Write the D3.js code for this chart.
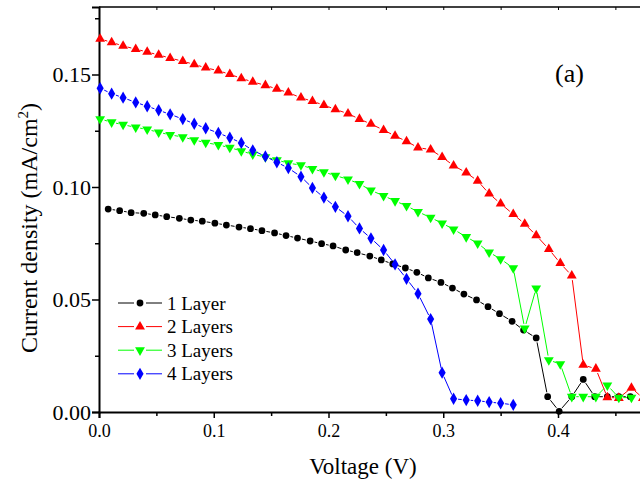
<!DOCTYPE html>
<html>
<head>
<meta charset="utf-8">
<script src="https://cdn.jsdelivr.net/npm/d3@7/dist/d3.min.js"></script>
<style>
  body { margin: 0; background: #fff; }
  svg { display: block; font-family: "Liberation Serif", "Times New Roman", serif; }
</style>
</head>
<body>
<svg id="chart" width="640" height="484"></svg>
<script>
// voltage grid shared by the 2, 3 and 4 layer curves
var voltage = [0.001, 0.011, 0.021, 0.032, 0.042, 0.052, 0.062, 0.073, 0.083, 0.093,
  0.104, 0.114, 0.124, 0.134, 0.145, 0.155, 0.165, 0.176, 0.186, 0.196,
  0.206, 0.217, 0.227, 0.237, 0.248, 0.258, 0.268, 0.278, 0.289, 0.299,
  0.309, 0.320, 0.330, 0.340, 0.350, 0.361, 0.371, 0.381, 0.392, 0.402,
  0.412, 0.422, 0.433, 0.443, 0.453, 0.464, 0.474];

// the 1 layer curve sits on a slightly shifted grid
var voltage1 = [0.008, 0.018, 0.028, 0.039, 0.049, 0.059, 0.070, 0.080, 0.090, 0.101,
  0.111, 0.122, 0.132, 0.142, 0.153, 0.163, 0.173, 0.184, 0.194, 0.204,
  0.215, 0.225, 0.236, 0.246, 0.256, 0.267, 0.277, 0.287, 0.298, 0.308,
  0.318, 0.329, 0.339, 0.349, 0.360, 0.370, 0.381, 0.391, 0.401, 0.412,
  0.422, 0.432, 0.443, 0.453, 0.463];

var layer1 = [0.0902, 0.0895, 0.0886, 0.0883, 0.0876, 0.0868, 0.0861, 0.0853, 0.0848, 0.0839,
  0.0831, 0.0822, 0.0815, 0.0806, 0.0796, 0.0784, 0.0773, 0.0760, 0.0748, 0.0738,
  0.0720, 0.0708, 0.0693, 0.0676, 0.0658, 0.0640, 0.0621, 0.0596, 0.0576, 0.0551,
  0.0524, 0.0498, 0.0468, 0.0437, 0.0403, 0.0364, 0.0329, 0.0068, 0.0003, 0.0068,
  0.0145, 0.0068, 0.0068, 0.0068, 0.0068];

var layer2 = [0.1658, 0.1643, 0.1627, 0.1613, 0.1600, 0.1587, 0.1573, 0.1559, 0.1545, 0.1530,
  0.1517, 0.1501, 0.1483, 0.1467, 0.1452, 0.1436, 0.1419, 0.1397, 0.1381, 0.1364,
  0.1345, 0.1326, 0.1302, 0.1280, 0.1253, 0.1227, 0.1203, 0.1175, 0.1166, 0.1133,
  0.1095, 0.1064, 0.1027, 0.0970, 0.0926, 0.0879, 0.0836, 0.0785, 0.0724, 0.0661,
  0.0606, 0.0209, 0.0192, 0.0065, 0.0062, 0.0107, 0.0062];

var layer3 = [0.1302, 0.1288, 0.1277, 0.1265, 0.1256, 0.1243, 0.1232, 0.1222, 0.1209, 0.1197,
  0.1187, 0.1175, 0.1160, 0.1145, 0.1133, 0.1120, 0.1106, 0.1097, 0.1081, 0.1066,
  0.1051, 0.1034, 0.1014, 0.0985, 0.0961, 0.0938, 0.0916, 0.0890, 0.0864, 0.0839,
  0.0812, 0.0778, 0.0750, 0.0710, 0.0680, 0.0640, 0.0372, 0.0550, 0.0231, 0.0213,
  0.0068, 0.0068, 0.0068, 0.0119, 0.0064, 0.0064];

var layer4 = [0.1439, 0.1415, 0.1397, 0.1376, 0.1359, 0.1341, 0.1323, 0.1302, 0.1281, 0.1261,
  0.1240, 0.1219, 0.1196, 0.1163, 0.1136, 0.1110, 0.1084, 0.1046, 0.0996, 0.0953,
  0.0912, 0.0870, 0.0816, 0.0772, 0.0720, 0.0656, 0.0592, 0.0526, 0.0413, 0.0175,
  0.0059, 0.0053, 0.0050, 0.0044, 0.0039, 0.0032];

var seriesNames = ["1 Layer", "2 Layers", "3 Layers", "4 Layers"];
var seriesColors = ["#000000", "#ff0000", "#00ff00", "#0000ff"];

var xMajor = [0, 0.1, 0.2, 0.3, 0.4];
var xMinor = [0.05, 0.15, 0.25, 0.35, 0.45];
var yMajor = [0, 0.05, 0.10, 0.15];
var yMinor = [0.025, 0.075, 0.125, 0.175];

var series = [
  {name: seriesNames[0], color: seriesColors[0], shape: "circle", xs: voltage1, ys: layer1},
  {name: seriesNames[1], color: seriesColors[1], shape: "up", xs: voltage, ys: layer2},
  {name: seriesNames[2], color: seriesColors[2], shape: "down", xs: voltage, ys: layer3},
  {name: seriesNames[3], color: seriesColors[3], shape: "diamond", xs: voltage, ys: layer4}
];
series.forEach(function (s) {
  s.points = s.ys.map(function (v, i) { return {x: s.xs[i], y: v}; });
});

var svg = d3.select("#chart");

var x = d3.scaleLinear().domain([0, 0.48]).range([99, 99 + 0.48 * 1147.5]);
var y = d3.scaleLinear().domain([0, 0.18]).range([412, 7]);

// frame
svg.append("line").attr("x1", x(0)).attr("x2", x(0.48)).attr("y1", y(0.18)).attr("y2", y(0.18))
  .attr("stroke", "#000").attr("stroke-width", 1.5);
svg.append("line").attr("x1", x(0.48)).attr("x2", x(0.48)).attr("y1", y(0.18)).attr("y2", y(0))
  .attr("stroke", "#000").attr("stroke-width", 1.5);

// top ticks pointing inward
svg.append("g")
  .attr("transform", "translate(0," + y(0.18) + ")")
  .call(d3.axisBottom(x).tickValues(xMajor.concat(xMinor)).tickSize(3).tickFormat(""))
  .call(function (g) { g.select(".domain").remove(); })
  .selectAll("line").attr("stroke-width", 1);

// bottom axis
var gx = svg.append("g")
  .attr("transform", "translate(0," + y(0) + ")")
  .call(d3.axisBottom(x).tickValues(xMajor).tickSize(6).tickPadding(6).tickFormat(d3.format(".1f")));
gx.append("g").call(d3.axisBottom(x).tickValues(xMinor).tickSize(4).tickFormat(""))
  .select(".domain").remove();
gx.select(".domain").attr("stroke-width", 2);
gx.selectAll("line").attr("stroke-width", 1.5);
gx.selectAll("text").attr("font-size", 18).attr("font-family", "Liberation Serif").attr("fill", "#000");

// left axis
var gy = svg.append("g")
  .attr("transform", "translate(" + x(0) + ",0)")
  .call(d3.axisLeft(y).tickValues(yMajor).tickSize(7).tickPadding(1).tickFormat(d3.format(".2f")));
gy.append("g").call(d3.axisLeft(y).tickValues(yMinor).tickSize(4).tickFormat(""))
  .select(".domain").remove();
gy.select(".domain").attr("stroke-width", 2);
gy.selectAll("line").attr("stroke-width", 1.5);
gy.selectAll("text").attr("font-size", 22).attr("font-family", "Liberation Serif").attr("fill", "#000");

// marker shapes
function markerPath(shape) {
  if (shape === "circle") return d3.symbol().type(d3.symbolCircle).size(36)();
  if (shape === "diamond") return d3.symbol().type(d3.symbolDiamond).size(44)();
  return d3.symbol().type(d3.symbolTriangle).size(42)();
}
function markerTransform(shape, px, py) {
  var t = "translate(" + px + "," + py + ")";
  if (shape === "down") t += " rotate(180)";
  return t;
}

// lines are broken around every marker
var gap = 4.5;
function gapSegments(pts) {
  var segs = [];
  for (var i = 0; i < pts.length - 1; i++) {
    var x0 = x(pts[i].x), y0 = y(pts[i].y), x1 = x(pts[i + 1].x), y1 = y(pts[i + 1].y);
    var dx = x1 - x0, dy = y1 - y0, len = Math.sqrt(dx * dx + dy * dy);
    if (len <= 2 * gap) continue;
    var ux = dx / len, uy = dy / len;
    segs.push([x0 + ux * gap, y0 + uy * gap, x1 - ux * gap, y1 - uy * gap]);
  }
  return segs;
}

var plot = svg.append("g");
series.forEach(function (s) {
  var g = plot.append("g");
  g.selectAll("line")
    .data(gapSegments(s.points))
    .enter().append("line")
    .attr("x1", function (d) { return d[0]; })
    .attr("y1", function (d) { return d[1]; })
    .attr("x2", function (d) { return d[2]; })
    .attr("y2", function (d) { return d[3]; })
    .attr("stroke", s.color)
    .attr("stroke-width", 1);
  g.selectAll("path")
    .data(s.points)
    .enter().append("path")
    .attr("d", markerPath(s.shape))
    .attr("transform", function (d) { return markerTransform(s.shape, x(d.x), y(d.y)); })
    .attr("fill", s.color);
});

// legend
var legend = svg.append("g");
series.forEach(function (s, i) {
  var cy = 303 + i * 23.6;
  legend.append("line").attr("x1", 118).attr("x2", 134).attr("y1", cy).attr("y2", cy)
    .attr("stroke", s.color).attr("stroke-width", 1);
  legend.append("line").attr("x1", 146).attr("x2", 162).attr("y1", cy).attr("y2", cy)
    .attr("stroke", s.color).attr("stroke-width", 1);
  legend.append("path").attr("d", markerPath(s.shape))
    .attr("transform", markerTransform(s.shape, 140, cy)).attr("fill", s.color);
  legend.append("text").attr("x", 167).attr("y", cy + 6.5)
    .attr("font-size", 19).attr("fill", "#000").text(s.name);
});

// panel label
svg.append("text").attr("x", 555).attr("y", 82).attr("font-size", 26).text("(a)");

// axis titles
svg.append("text")
  .attr("x", x(0.23)).attr("y", 474)
  .attr("text-anchor", "middle").attr("font-size", 23)
  .text("Voltage (V)");

var yt = svg.append("text")
  .attr("transform", "translate(37," + 228 + ") rotate(-90)")
  .attr("text-anchor", "middle").attr("font-size", 24);
yt.append("tspan").text("Current density (mA/cm");
yt.append("tspan").attr("dy", -9).attr("font-size", 15).text("2");
yt.append("tspan").attr("dy", 9).text(")");
</script>
</body>
</html>
